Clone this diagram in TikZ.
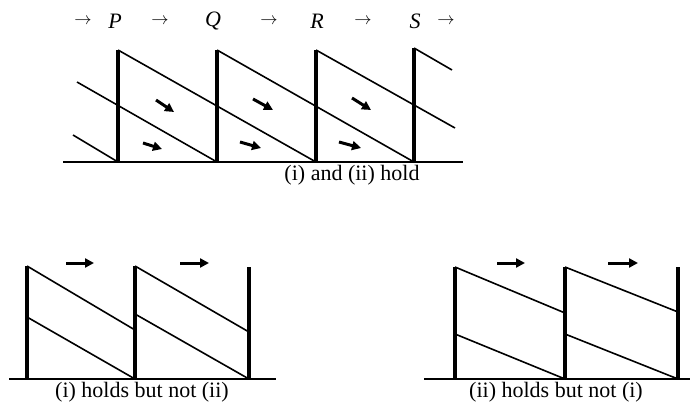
\documentclass[tikz,border=0pt]{standalone}
\usepackage{fontspec}
\setmainfont{Liberation Serif}
\usetikzlibrary{arrows.meta}
\tikzset{
  wave/.style={line width=1.6pt},
  front/.style={line width=3.8pt},
  ground/.style={line width=1.5pt},
  flow/.style={line width=3pt, -{Triangle[length=9pt,width=9pt]}},
  caption/.style={font=\fontsize{22}{24}\selectfont, anchor=north, inner sep=1pt},
  shock/.style={font=\fontsize{22}{24}\selectfont\itshape},
  pointer/.style={font=\fontsize{16}{18}\selectfont}
}
\begin{document}
\begin{tikzpicture}[x=1pt,y=-1pt]
    \useasboundingbox (0,0) rectangle (693,406);
    % Top: periodic fronts P, Q, R, S
    \def\base{162}
    \def\topy{50}
    \coordinate (Pb) at (118,\base); \coordinate (Pt) at (118,\topy);
    \coordinate (Qb) at (217,\base); \coordinate (Qt) at (217,\topy);
    \coordinate (Rb) at (316,\base); \coordinate (Rt) at (316,\topy);
    \coordinate (Sb) at (414,\base); \coordinate (St) at (414,48);
    \coordinate (lhi) at (77,82);
    \coordinate (llo) at (73,135);
    \coordinate (rhi) at (452,70);
    \coordinate (rlo) at (455,128);
    % Sloping lines
    \draw[wave] (lhi) -- (Qb);
    \draw[wave] (llo) -- (Pb);
    \draw[wave] (Pt) -- (Rb);
    \draw[wave] (Qt) -- (Sb);
    \draw[wave] (Rt) -- (rlo);
    \draw[wave] (St) -- (rhi);
    % Fronts and ground
    \draw[front] (Pb) -- (Pt);
    \draw[front] (Qb) -- (Qt);
    \draw[front] (Rb) -- (Rt);
    \draw[front] (Sb) -- (St);
    \draw[ground] (63,\base) -- (463,\base);
    % Flow arrows
    \draw[flow] (156,100) -- (174,112);
    \draw[flow] (143,143) -- (162,149);
    \draw[flow] (253,99) -- (273,110);
    \draw[flow] (240,142) -- (261,148);
    \draw[flow] (352,98) -- (371,110);
    \draw[flow] (339,142) -- (361,148);
    % Labels above
    \node[pointer] (a0) at (83,21) {$\rightarrow$};
    \node[shock] (sP) at (115,21) {P};
    \node[pointer] (a1) at (160,21) {$\rightarrow$};
    \node[shock] (sQ) at (213,21) {Q};
    \node[pointer] (a2) at (269,21) {$\rightarrow$};
    \node[shock] (sR) at (317,21) {R};
    \node[pointer] (a3) at (363,21) {$\rightarrow$};
    \node[shock] (sS) at (415,21) {S};
    \node[pointer] (a4) at (446,21) {$\rightarrow$};
    \node[caption] (capA) at (352,164) {(i) and (ii) hold};
    %
    % Bottom left: (i) holds but not (ii)
    \def\lb{379}
    \coordinate (La) at (27,\lb); \coordinate (Lat) at (27,266);
    \coordinate (Lb) at (135,\lb); \coordinate (Lbt) at (135,266);
    \coordinate (Lc) at (249,\lb); \coordinate (Lct) at (249,267);
    \draw[wave] (Lat) -- (135,330);
    \draw[wave] (Lbt) -- (249,332);
    \draw[wave] (27,317) -- (Lb);
    \draw[wave] (135,314) -- (Lc);
    \draw[front] (La) -- (Lat);
    \draw[front] (Lb) -- (Lbt);
    \draw[front] (Lc) -- (Lct);
    \draw[ground] (9,\lb) -- (276,\lb);
    \draw[flow] (66,263) -- (94,263);
    \draw[flow] (180,263) -- (209,263);
    \node[caption] (capB) at (142,381) {(i) holds but not (ii)};
    %
    % Bottom right: (ii) holds but not (i)
    \coordinate (Ra) at (455,\lb); \coordinate (Rat) at (455,267);
    \coordinate (Rb2) at (565,\lb); \coordinate (Rbt) at (565,267);
    \coordinate (Rc) at (678,\lb); \coordinate (Rct) at (678,267);
    \draw[wave] (Rat) -- (565,313);
    \draw[wave] (Rbt) -- (678,312);
    \draw[wave] (455,334) -- (Rb2);
    \draw[wave] (565,334) -- (Rc);
    \draw[front] (Ra) -- (Rat);
    \draw[front] (Rb2) -- (Rbt);
    \draw[front] (Rc) -- (Rct);
    \draw[ground] (424,\lb) -- (690,\lb);
    \draw[flow] (497,263) -- (525,263);
    \draw[flow] (608,263) -- (638,263);
    \node[caption] (capC) at (556,381) {(ii) holds but not (i)};
\end{tikzpicture}
\end{document}
